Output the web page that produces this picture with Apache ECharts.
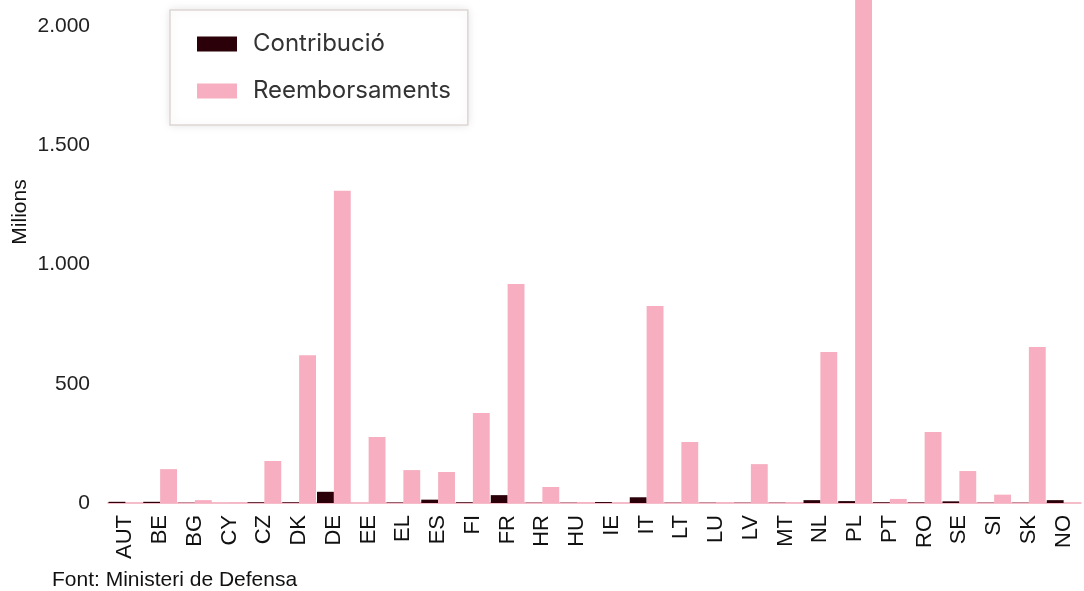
<!DOCTYPE html>
<html>
<head>
<meta charset="utf-8">
<script src="https://cdn.jsdelivr.net/npm/echarts@6/dist/echarts.min.js"></script>
<style>
  html, body { margin: 0; padding: 0; background: #fff; }
  #main { width: 1084px; height: 591px; }
</style>
</head>
<body>
<div id="main"></div>
<script>
const countries = ['AUT', 'BE', 'BG', 'CY', 'CZ', 'DK', 'DE', 'EE', 'EL', 'ES', 'FI', 'FR', 'HR', 'HU',
  'IE', 'IT', 'LT', 'LU', 'LV', 'MT', 'NL', 'PL', 'PT', 'RO', 'SE', 'SI', 'SK', 'NO']
const contribucio = [5, 5, 1, 0, 3, 3, 47, 0, 2, 14, 3, 33, 1, 1,
  4, 24, 1, 1, 1, 1, 12, 8, 3, 2, 7, 1, 1, 12]
const reemborsaments = [0, 142, 12, 2, 176, 620, 1309, 277, 138, 130, 377, 918, 67, 3,
  0, 826, 256, 2, 163, 2, 633, 2300, 17, 298, 134, 35, 654, 0]
const yTicks = [0, 500, 1000, 1500, 2000]

const chart = echarts.init(document.getElementById('main'))

const fmt = (v) => String(v).replace(/\B(?=(\d{3})+(?!\d))/g, '.')

const option = {
  animation: false,
  textStyle: { fontFamily: 'Liberation Sans' },
  grid: { left: 108, right: 3, top: 0, bottom: 88 },
  legend: {
    orient: 'vertical',
    left: 170,
    top: 10,
    padding: [22, 17, 22, 27],
    itemWidth: 40,
    itemHeight: 15,
    itemGap: 23,
    icon: 'rect',
    backgroundColor: '#fff',
    borderColor: '#ddd6d4',
    borderWidth: 1.5,
    shadowBlur: 10,
    shadowColor: 'rgba(0,0,0,0.1)',
    textStyle: { fontFamily: 'Inter', fontSize: 24, color: '#333', padding: [0, 0, 0, 11] },
    data: ['Contribució', 'Reemborsaments']
  },
  xAxis: {
    type: 'category',
    data: countries,
    axisLine: { lineStyle: { color: '#f2a7b8', width: 1.5 } },
    axisTick: { length: 7, lineStyle: { color: '#f2a7b8' } },
    axisLabel: { rotate: 90, fontSize: 22, fontFamily: 'Liberation Sans', color: '#111', margin: 12 }
  },
  yAxis: {
    type: 'value',
    min: 0,
    max: 2109,
    interval: 500,
    axisLine: { show: false },
    axisTick: { show: false },
    splitLine: { show: false },
    axisLabel: {
      fontSize: 21,
      fontFamily: 'Liberation Sans',
      color: '#222',
      margin: 18,
      showMaxLabel: false,
      formatter: (v) => (yTicks.includes(v) ? fmt(v) : '')
    }
  },
  series: [
    {
      name: 'Contribució',
      type: 'bar',
      data: contribucio,
      barGap: '0%',
      barCategoryGap: '3%',
      itemStyle: { color: '#2b0009' }
    },
    {
      name: 'Reemborsaments',
      type: 'bar',
      data: reemborsaments,
      itemStyle: { color: '#f6aec0' }
    }
  ],
  graphic: [
    {
      type: 'text',
      x: 20,
      y: 212,
      rotation: Math.PI / 2,
      style: {
        text: 'Milions',
        fontFamily: 'Liberation Sans',
        fontSize: 21,
        fill: '#111',
        align: 'center',
        verticalAlign: 'middle'
      }
    },
    {
      type: 'text',
      left: 52,
      top: 570,
      style: {
        text: 'Font: Ministeri de Defensa',
        fontFamily: 'Liberation Sans',
        fontSize: 21,
        fill: '#111'
      }
    }
  ]
}

chart.setOption(option)
</script>
</body>
</html>
